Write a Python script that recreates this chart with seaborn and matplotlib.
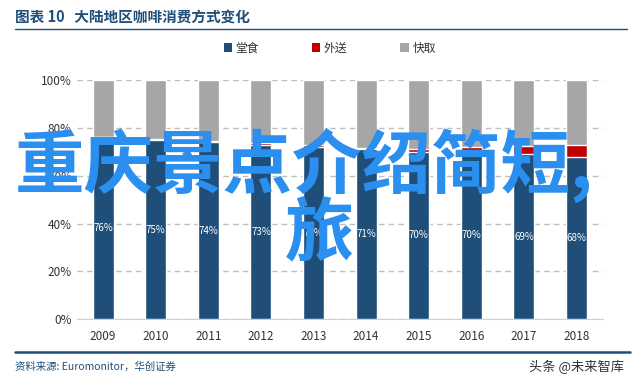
import pandas as pd
import matplotlib
matplotlib.use("Agg")
import matplotlib.pyplot as plt
import seaborn as sns
from matplotlib.lines import Line2D
from matplotlib.patches import Patch

# data (percent of total)
years = ["2009", "2010", "2011", "2012", "2013", "2014", "2015", "2016", "2017", "2018"]
dine_in = [76, 75, 74, 73, 72, 71, 70, 70, 69, 68]          # 堂食
delivery = [0.2, 0.3, 0.4, 0.5, 0.7, 0.8, 1.0, 2.0, 3.5, 5.0]  # 外送
takeaway = [23.8, 24.7, 25.6, 26.5, 27.3, 28.2, 29.0, 28.0, 27.5, 27.0]  # 快取

series_names = ["堂食", "外送", "快取"]
colors = ["#1f4e79", "#c00000", "#a6a6a6"]

df = pd.DataFrame({"year": years, "dine": dine_in, "deliv": delivery, "take": takeaway})
df["top_red"] = df["dine"] + df["deliv"]
df["top_all"] = df["top_red"] + df["take"]

sns.set_style("white")
plt.rcParams["font.family"] = ["Noto Sans CJK SC", "DejaVu Sans"]

fig = plt.figure(figsize=(6.4, 3.85), dpi=100)
ax = fig.add_axes([0.12, 0.171, 0.822, 0.621])

# stacked look: draw totals first, then overlay lower parts
sns.barplot(data=df, x="year", y="top_all", color=colors[2], width=0.4,
            saturation=1, ax=ax, zorder=2)
sns.barplot(data=df, x="year", y="top_red", color=colors[1], width=0.4,
            saturation=1, ax=ax, zorder=3)
sns.barplot(data=df, x="year", y="dine", color=colors[0], width=0.4,
            saturation=1, ax=ax, zorder=4)

for i, v in enumerate(dine_in):
    ax.text(i, v / 2, f"{v}%", color="white", ha="center", va="center",
            fontsize=7, zorder=5)

ax.set_ylim(0, 100)
ax.set_xlim(-0.5, len(years) - 0.5)
ax.set_yticks([0, 20, 40, 60, 80, 100])
ax.set_yticklabels([f"{t}%" for t in [0, 20, 40, 60, 80, 100]])
ax.set_xlabel("")
ax.set_ylabel("")
ax.yaxis.grid(True, linestyle=(0, (4, 3)), color="#bfbfbf", linewidth=1, zorder=0)
ax.set_axisbelow(True)
for s in ["top", "right", "left"]:
    ax.spines[s].set_visible(False)
ax.spines["bottom"].set_color("#d0d0d0")
ax.tick_params(axis="both", length=0, labelsize=8.5, colors="#333333")
ax.tick_params(axis="x", pad=8)

handles = [Patch(facecolor=c, edgecolor="none") for c in colors]
fig.legend(handles, series_names, loc="center", bbox_to_anchor=(0.515, 0.875),
           ncol=3, frameon=False, fontsize=8.5, handlelength=0.7, handleheight=0.7,
           handletextpad=0.3, columnspacing=4.5, labelcolor="#333333")

# header and footer
fig.text(0.024, 0.958, "图表 10   大陆地区咖啡消费方式变化", fontsize=10.5,
         fontweight="bold", color="#1f4e79", va="center", ha="left")
fig.add_artist(Line2D([0.024, 0.98], [0.925, 0.925], color="#1f4e79", linewidth=1))
fig.add_artist(Line2D([0.024, 0.985], [0.085, 0.085], color="#1f4e79", linewidth=1.8))
fig.text(0.024, 0.048, "资料来源: Euromonitor，华创证券", fontsize=7.5, style="italic",
         color="#1f4e79", va="center", ha="left")
fig.text(0.975, 0.048, "头条 @未来智库", fontsize=9.5, color="#333333",
         va="center", ha="right")

# overlaid text on the picture
fig.text(0.475, 0.57, "重庆景点介绍简短,", fontsize=50, fontweight="bold",
         color="#2b8ff0", va="center", ha="center", zorder=10)
fig.text(0.5, 0.39, "旅", fontsize=50, fontweight="bold",
         color="#2b8ff0", va="center", ha="center", zorder=10)

fig.savefig("out.png", dpi=100)
